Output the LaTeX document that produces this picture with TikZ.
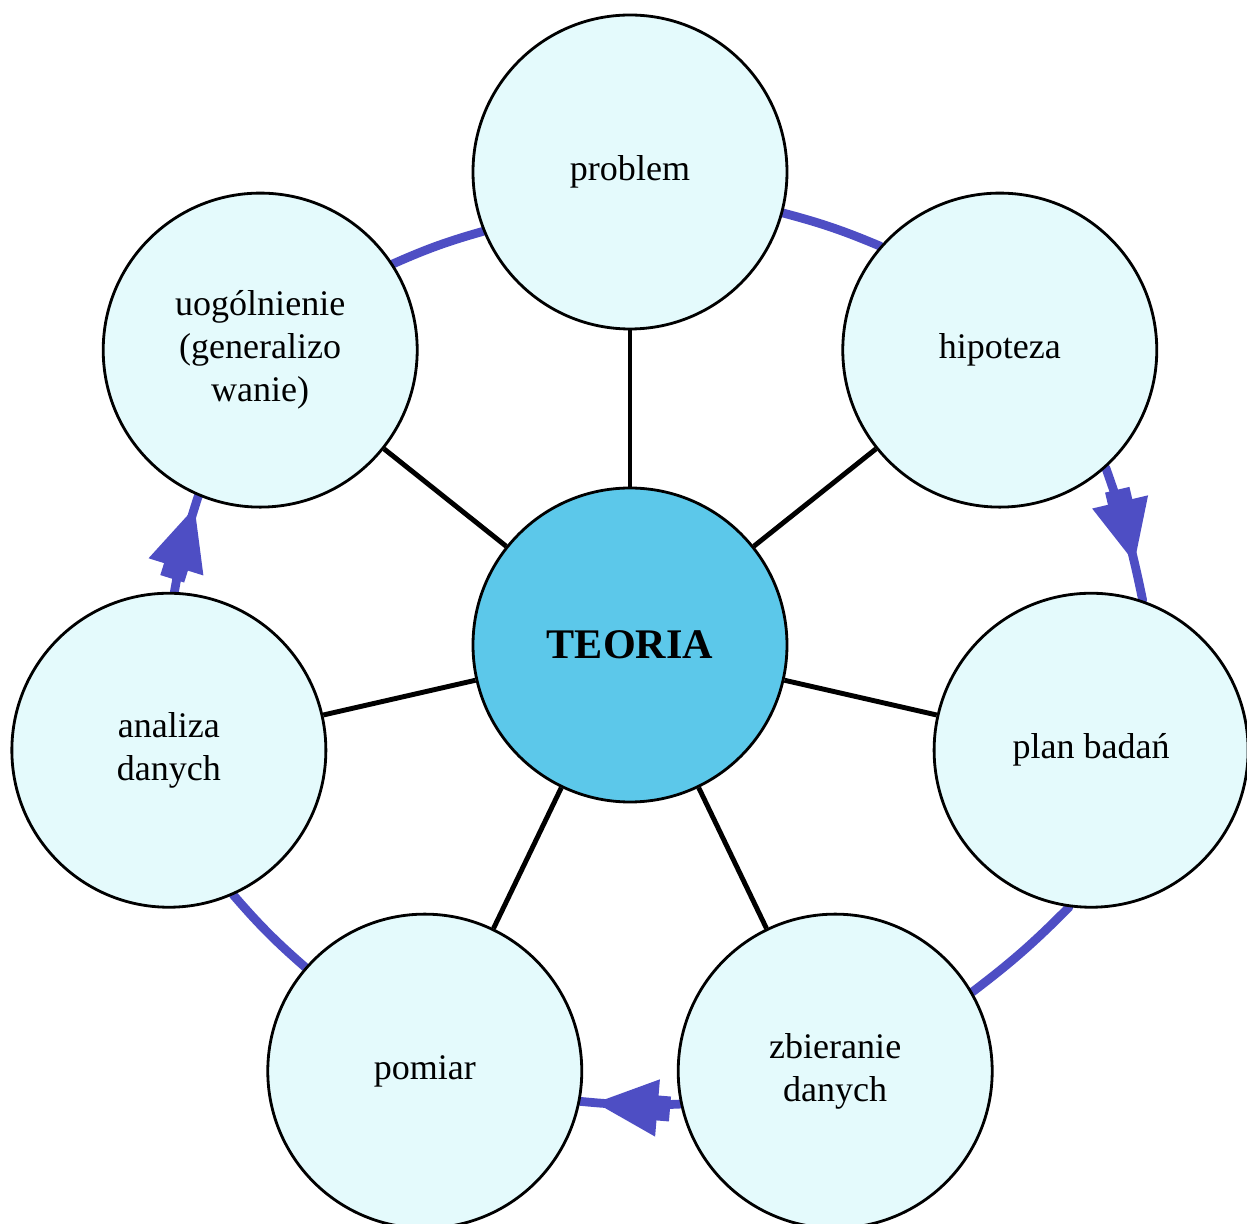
\documentclass[tikz,border=0pt]{standalone}
\usepackage{fontspec}
\setmainfont{Liberation Serif}
\usetikzlibrary{arrows.meta,decorations.markings,backgrounds}
\definecolor{topicfill}{RGB}{228,250,252}
\definecolor{corefill}{RGB}{92,200,234}
\definecolor{ringblue}{RGB}{78,78,196}

\begin{document}
\begin{tikzpicture}[
    topic/.style={circle, draw, line width=1.6pt, fill=topicfill, minimum size=6.28cm,
      inner sep=0pt, align=center, font=\fontsize{20.5}{24.5}\selectfont},
    core/.style={topic, fill=corefill, font=\fontsize{24}{28}\selectfont\bfseries},
    spoke/.style={line width=2.8pt},
    ring/.style={draw=ringblue, line width=5pt, line cap=round, bend left=4},
    ringtip/.style={postaction={decorate, decoration={markings,
      mark=at position #1 with {\arrow[ringblue]{Rectangle[length=0.3cm,width=0.5cm,sep=-0.05cm] Triangle[length=1.25cm,width=1.1cm]}}}}}
  ]
  \useasboundingbox (-12.6,-11.58) rectangle (12.34,12.9);

          \node[core] (teoria) at (0,0) {TEORIA};
          \node[topic] (problem) at (90:9.46) {problem};
          \node[topic] (hipoteza) at (38.571:9.46) {hipoteza};
          \node[topic] (plan) at (-12.857:9.46) {plan badań};
          \node[topic] (zbieranie) at (-64.286:9.46) {zbieranie\\danych};
          \node[topic] (pomiar) at (-115.714:9.46) {pomiar};
          \node[topic] (analiza) at (-167.143:9.46) {analiza\\danych};
          \node[topic] (uogolnienie) at (141.429:9.46) {uogólnienie\\(generalizo\\wanie)};

          \path[spoke]
          (teoria) edge (problem)
          (teoria) edge (hipoteza)
          (teoria) edge (plan)
          (teoria) edge (zbieranie)
          (teoria) edge (pomiar)
          (teoria) edge (analiza)
          (teoria) edge (uogolnienie)
          ;

          % blue cycle behind the circles
          \begin{scope}[on background layer]
          \draw[ring] (problem.-15) to (hipoteza.139);
          \draw[ring, ringtip=0.72] (hipoteza.-48) to (plan.71);
          \draw[ring] (plan.-98) to (zbieranie.30);
          \draw[ring, ringtip=0.85] (zbieranie.192) to (pomiar.-11);
          \draw[ring] (pomiar.139) to (analiza.-66);
          \draw[ring, ringtip=0.88] (analiza.88) to (uogolnienie.247);
          \draw[ring] (uogolnienie.33) to (problem.202);
          \end{scope}
        \end{tikzpicture}
\end{document}
